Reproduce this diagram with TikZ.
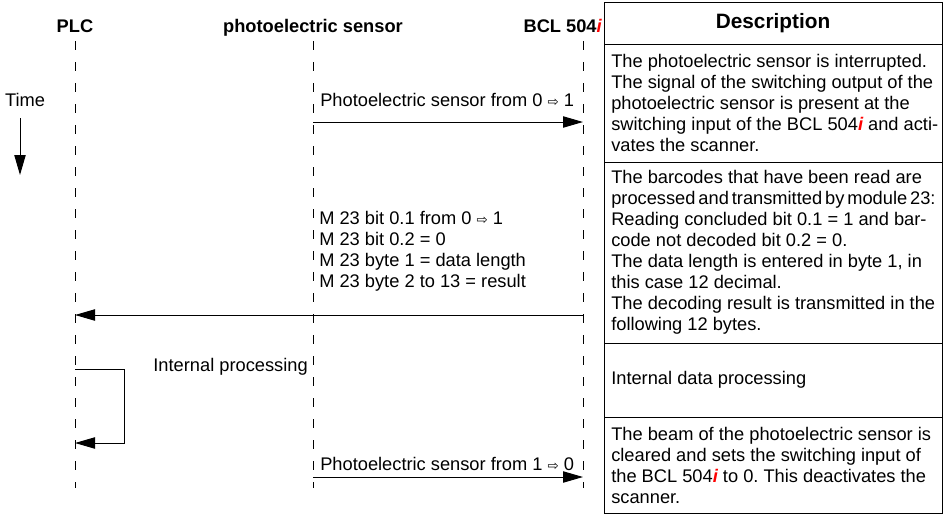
\documentclass[tikz,border=0pt]{standalone}
\usepackage{fontspec}
\setmainfont{Liberation Sans}
\newfontfamily\symfont{DejaVu Sans}
\usepackage{xcolor}
\usepackage{tikz}
\usetikzlibrary{arrows.meta, positioning}
\frenchspacing

\newcommand{\redi}{\textcolor{red}{\bfseries\itshape i}}
\newcommand{\toarr}{{\symfont\fontsize{10}{10}\selectfont ⇨}}
\newcommand{\squeeze}{\spaceskip=0.16em\relax}

\begin{document}
\begin{tikzpicture}[
    x=0.75pt, y=-0.75pt,
    >={Triangle[length=15pt, width=8.5pt]},
    every node/.style={font=\fontsize{13.7}{15.75}\selectfont},
    actor/.style={font=\fontsize{13.7}{15.75}\selectfont\bfseries, inner sep=0pt, anchor=base},
    lifeline/.style={line width=0.75pt, dash pattern=on 6.75pt off 9pt},
    msg/.style={->, line width=0.75pt},
    msglabel/.style={anchor=west, align=left, inner sep=0pt},
    descrow/.style={rectangle, draw=black, line width=0.75pt, outer sep=0pt, inner sep=0pt, minimum width=253.5pt},
    desctext/.style={anchor=west, align=left, inner xsep=5.25pt, inner ysep=0pt}
]
\useasboundingbox (0,0) rectangle (945,514);

% Actors
\node[actor] (plc) at (75,32) {PLC};
\node[actor] (sensor) at (313,32) {photoelectric sensor};
\node[actor, anchor=base east] (bcl) at (602,32) {BCL 504\redi};

% Lifelines
\coordinate (plc0) at (75,41);  \coordinate (plc1) at (75,488);
\coordinate (sen0) at (313,41); \coordinate (sen1) at (313,488);
\coordinate (bcl0) at (583,41); \coordinate (bcl1) at (583,488);
\draw[lifeline] (plc0) -- (plc1);
\draw[lifeline] (sen0) -- (sen1);
\draw[lifeline] (bcl0) -- (bcl1);

% Time axis
\node (time) at (25,100) {Time};
\coordinate (t0) at (20,118);
\coordinate (t1) at (20,175);
\draw[msg] (t0) -- (t1);

% Messages
\coordinate (m1a) at (313,122); \coordinate (m1b) at (583,122);
\coordinate (m2a) at (583,315); \coordinate (m2b) at (75,315);
\coordinate (m3a) at (75,369);  \coordinate (m3b) at (75,443);
\coordinate (m4a) at (313,477); \coordinate (m4b) at (583,477);

\draw[msg] (m1a) -- (m1b);
\draw[msg] (m2a) -- (m2b);
\draw[msg] (m3a) -- ++(49,0) |- (m3b);
\draw[msg] (m4a) -- (m4b);

\node[msglabel] (l1) at (320,100) {Photoelectric sensor from 0 \toarr\ 1};
\node[msglabel] (l2) at (319,251) {M 23 bit 0.1 from 0 \toarr\ 1\\
    M 23 bit 0.2 = 0\\
    M 23 byte 1 = data length\\
    M 23 byte 2 to 13 = result};
\node[msglabel, anchor=east] (l3) at (308,367) {Internal processing};
\node[msglabel] (l4) at (320,464) {Photoelectric sensor from 1 \toarr\ 0};

% Description table
\node[descrow, anchor=north west, minimum height=31.5pt,
      font=\fontsize{15.6}{18}\selectfont\bfseries] (head) at (604,2) {Description};
\node[descrow, below=0pt of head, minimum height=88.5pt] (r1) {};
\node[descrow, below=0pt of r1, minimum height=135.75pt] (r2) {};
\node[descrow, below=0pt of r2, minimum height=55.5pt] (r3) {};
\node[descrow, below=0pt of r3, minimum height=72pt] (r4) {};

\node[desctext] (d1) at (r1.west) {The photoelectric sensor is interrupted.\\
    The signal of the switching output of the\\
    photoelectric sensor is present at the\\
    switching input of the BCL 504\redi{} and acti-\\
    vates the scanner.};
\node[desctext] (d2) at (r2.west) {The barcodes that have been read are\\
    {\squeeze processed and transmitted by module 23:}\\
    Reading concluded bit 0.1 = 1 and bar-\\
    code not decoded bit 0.2 = 0.\\
    The data length is entered in byte 1, in\\
    this case 12 decimal.\\
    The decoding result is transmitted in the\\
    following 12 bytes.};
\node[desctext] (d3) at (r3.west) {Internal data processing};
\node[desctext] (d4) at (r4.west) {The beam of the photoelectric sensor is\\
    cleared and sets the switching input of\\
    the BCL 504\redi{} to 0. This deactivates the\\
    scanner.};

\end{tikzpicture}
\end{document}
